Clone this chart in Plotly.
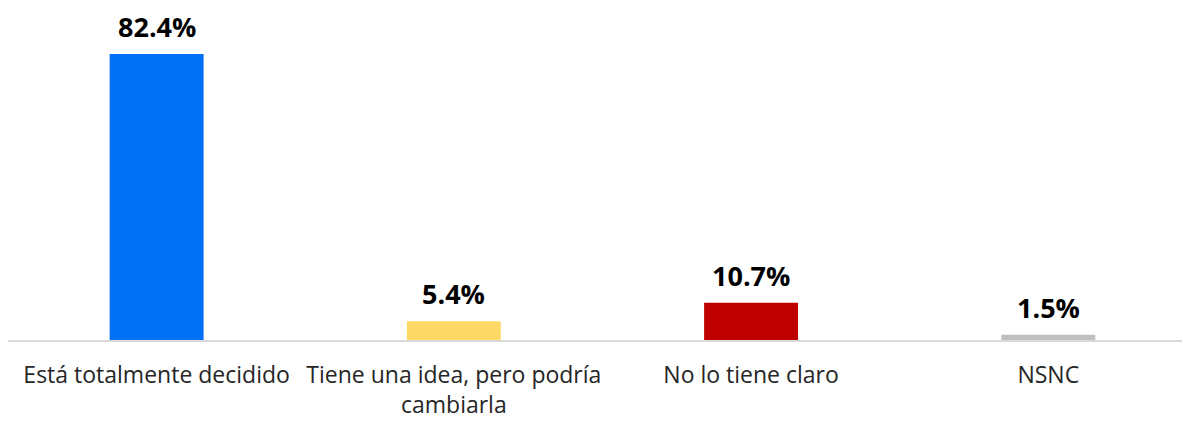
import plotly.graph_objects as go

categories = ["Está totalmente decidido", "Tiene una idea, pero podría<br>cambiarla", "No lo tiene claro", "NSNC"]
values = [82.4, 5.4, 10.7, 1.5]
labels = ["82.4%", "5.4%", "10.7%", "1.5%"]
colors = ["#0070F5", "#FFD966", "#C00000", "#BFBFBF"]

fig = go.Figure()
fig.add_trace(go.Bar(
    x=categories, y=values, marker=dict(color=colors, line=dict(width=0)),
    width=0.316, hoverinfo="skip",
))
for c, v, t in zip(categories, values, labels):
    fig.add_annotation(x=c, y=v, text="<b>%s</b>" % t, showarrow=False,
                       yanchor="bottom", yshift=8, borderpad=0,
                       font=dict(family="Open Sans", size=27, color="#000000"))

fig.update_layout(
    width=1190, height=421,
    margin=dict(l=0, r=10, t=2, b=89),
    paper_bgcolor="white", plot_bgcolor="white",
    showlegend=False,
    font=dict(family="Open Sans", color="#262626"),
    xaxis=dict(
        type="category", range=[-0.5, 3.47], automargin=False,
        showline=True, linecolor="#D9D9D9", linewidth=2,
        showgrid=False, zeroline=False,
        ticks="outside", ticklen=13, tickcolor="rgba(0,0,0,0)",
        tickfont=dict(family="Open Sans", size=23, color="#262626"),
    ),
    yaxis=dict(range=[0, 95.1], visible=False, showgrid=False, zeroline=False, automargin=False),
)

fig.write_html("out.html")
